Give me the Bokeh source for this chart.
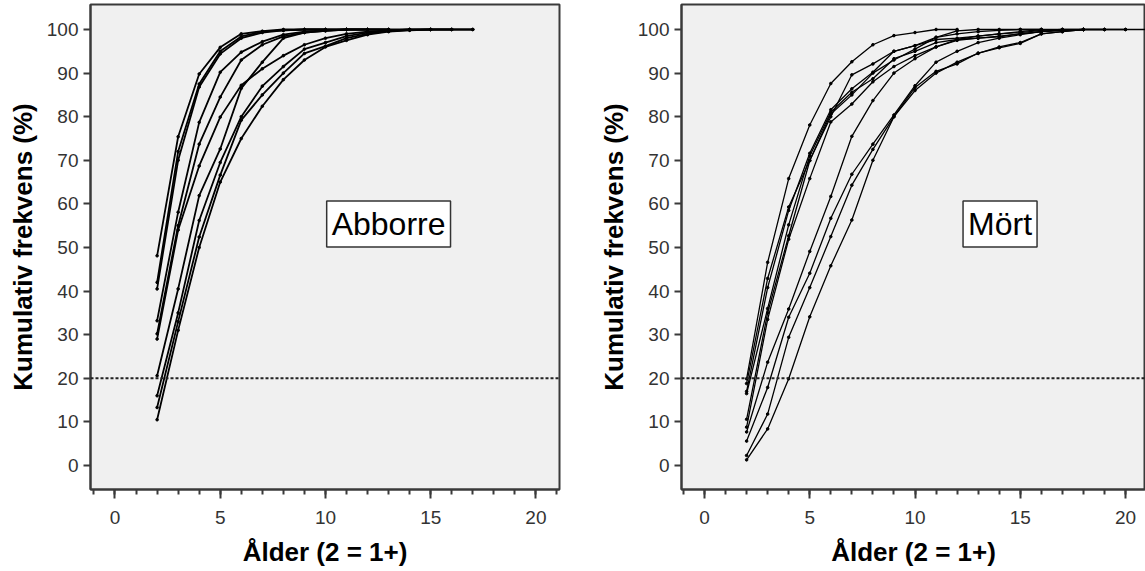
from bokeh.plotting import figure
from bokeh.layouts import row
from bokeh.models import FixedTicker, Span, Label, Range1d
from bokeh.embed import file_html
from bokeh.resources import INLINE

# ---- data: cumulative frequency (%) by age, each curve starts at age 2 ----
start_age = 2

abborre_1 = [48.1, 75.4, 89.8, 95.9, 99.0, 99.6, 100, 100, 100]
abborre_2 = [42.0, 72.0, 87.5, 95.0, 98.4, 99.5, 99.8, 100, 100, 100, 100]
abborre_3 = [40.5, 70.0, 86.8, 94.4, 98.0, 99.3, 99.8, 100, 100, 100]
abborre_4 = [33.2, 58.1, 78.7, 90.2, 94.8, 97.2, 98.8, 99.5, 99.8, 100, 100, 100]
abborre_5 = [30.2, 55.0, 73.7, 84.5, 93.0, 96.5, 98.4, 99.3, 99.7, 100, 100, 100, 100]
abborre_6 = [29.0, 54.0, 68.7, 79.9, 87.2, 91.0, 94.0, 96.5, 98.0, 99.0, 99.5, 99.8, 100, 100]
abborre_7 = [20.6, 40.5, 61.9, 72.6, 86.5, 92.5, 98.0, 99.3, 99.7, 100, 100, 100]
abborre_8 = [16.0, 35.0, 56.2, 69.5, 80.0, 87.0, 91.5, 95.5, 97.0, 98.5, 99.3, 99.7, 100, 100, 100]
abborre_9 = [13.3, 33.0, 52.4, 66.6, 79.2, 85.0, 90.0, 94.5, 96.2, 98.0, 99.0, 99.6, 99.9, 100, 100, 100]
abborre_10 = [10.5, 31.0, 50.0, 65.0, 75.0, 82.4, 88.5, 93.0, 96.0, 97.5, 98.8, 99.5, 99.8, 100, 100, 100]

mort_1 = [19.9, 46.6, 65.8, 78.1, 87.6, 92.6, 96.5, 98.6, 99.3, 100, 100]
mort_2 = [18.8, 42.9, 59.3, 70.0, 80.0, 89.6, 92.1, 95.0, 96.3, 98.2, 99.7, 100, 100, 100, 100]
mort_3 = [17.0, 40.8, 58.5, 71.6, 81.6, 86.4, 90.2, 95.0, 96.3, 97.7, 98.0, 98.5, 99.0, 99.5, 100, 100, 100]
mort_4 = [16.5, 36.0, 55.2, 71.0, 81.0, 85.6, 88.7, 93.3, 95.0, 97.0, 97.7, 98.0, 98.3, 99.0, 99.5, 99.8, 100, 100, 100]
mort_5 = [10.6, 35.0, 52.7, 69.9, 80.6, 85.0, 90.0, 93.0, 95.5, 98.2, 99.0, 99.5, 99.8, 100, 100]
mort_6 = [8.8, 33.5, 51.9, 65.8, 78.8, 82.9, 88.0, 91.5, 94.0, 96.0, 97.5, 98.0, 98.5, 99.0, 99.5, 99.8, 100, 100, 100, 100]
mort_7 = [7.7, 23.7, 35.9, 49.1, 61.7, 75.5, 83.7, 90.0, 93.3, 96.0, 97.7, 98.5, 99.0, 99.3, 99.8, 100]
mort_8 = [5.6, 17.9, 34.0, 44.1, 56.7, 66.8, 73.7, 80.4, 87.1, 92.5, 95.0, 97.0, 98.0, 98.8, 99.5, 100, 100]
mort_9 = [2.3, 11.8, 29.4, 40.8, 52.5, 64.3, 72.5, 80.0, 86.7, 90.4, 92.1, 94.6, 95.8, 96.8, 99.0, 99.5, 100, 100]
mort_10 = [1.3, 8.4, 19.9, 34.1, 45.8, 56.3, 70.0, 80.0, 86.0, 90.0, 92.5, 94.5, 96.0, 97.0, 99.0, 99.5, 100]

abborre_curves = [abborre_1, abborre_2, abborre_3, abborre_4, abborre_5,
                  abborre_6, abborre_7, abborre_8, abborre_9, abborre_10]
mort_curves = [mort_1, mort_2, mort_3, mort_4, mort_5,
               mort_6, mort_7, mort_8, mort_9, mort_10]

y_ticks = [0, 10, 20, 30, 40, 50, 60, 70, 80, 90, 100]
x_ticks = [0, 5, 10, 15, 20]
x_minor = list(range(-1, 22))
ref_level = 20
x_title = "Ålder (2 = 1+)"
y_title = "Kumulativ frekvens (%)"

FONT = "Liberation Sans"
FRAME = "#3a3a3a"


def make_panel(curves, name, name_x, name_y, x_range, width, border_left,
               border_right, line_w):
    p = figure(width=width, height=571, output_backend="svg",
               toolbar_location=None,
               x_range=Range1d(*x_range), y_range=Range1d(-5.5, 105.73),
               min_border_left=border_left, min_border_right=border_right,
               min_border_top=4, min_border_bottom=82)
    p.background_fill_color = "#F0F0F0"
    p.border_fill_color = "white"
    p.outline_line_color = FRAME
    p.outline_line_width = 2
    p.grid.visible = False

    for vals in curves:
        ages = list(range(start_age, start_age + len(vals)))
        p.line(ages, vals, line_color="black", line_width=line_w)
        p.scatter(ages, vals, size=2.6, color="black")

    p.add_layout(Span(location=ref_level, dimension="width",
                      line_color="#222222", line_width=2,
                      line_dash="3 2"))

    p.add_layout(Label(x=name_x, y=name_y, text=name,
                       text_font=FONT, text_font_size="32px",
                       text_align="center", text_baseline="middle",
                       text_color="black",
                       background_fill_color="white",
                       border_line_color="#333333", border_line_width=1.5,
                       padding=5))

    xa = p.xaxis[0]
    xa.ticker = FixedTicker(ticks=x_ticks, minor_ticks=x_minor)
    xa.axis_label = x_title
    ya = p.yaxis[0]
    ya.ticker = FixedTicker(ticks=y_ticks)
    ya.axis_label = y_title
    for ax in (xa, ya):
        ax.axis_line_color = FRAME
        ax.axis_line_width = 2
        ax.major_tick_line_color = FRAME
        ax.major_tick_line_width = 2
        ax.minor_tick_line_color = FRAME
        ax.minor_tick_line_width = 2
        ax.major_tick_in = 0
        ax.minor_tick_in = 0
        ax.major_label_text_font = FONT
        ax.major_label_text_font_size = "19px"
        ax.major_label_text_color = "#333333"
        ax.axis_label_text_font = FONT
        ax.axis_label_text_font_size = "26px"
        ax.axis_label_text_font_style = "bold"
        ax.axis_label_text_color = "black"
    xa.major_tick_out = 9
    xa.minor_tick_out = 5
    xa.major_label_standoff = 12
    xa.axis_label_standoff = 10
    ya.major_tick_out = 7
    ya.minor_tick_line_color = None
    ya.major_label_standoff = 5
    ya.axis_label_standoff = 6
    return p


p1 = make_panel(abborre_curves, "Abborre", 13.0, 55.4, (-1.164, 21.12),
                591, 90, 32, 1.8)
p2 = make_panel(mort_curves, "Mört", 14.04, 55.4, (-1.093, 20.95),
                554, 90, 0, 1.3)

layout = row(p1, p2)
open("out.html", "w").write(file_html(layout, INLINE))
